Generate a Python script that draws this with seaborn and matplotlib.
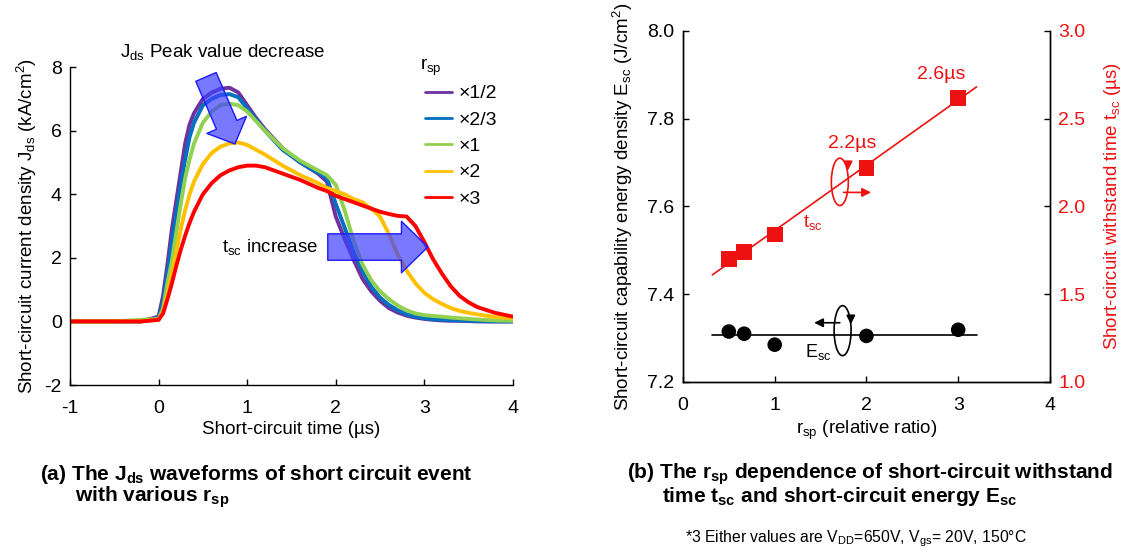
import numpy as np
import pandas as pd
import seaborn as sns
import matplotlib.pyplot as plt
from matplotlib.patches import FancyArrowPatch, Ellipse
from matplotlib.lines import Line2D

# ---- (a) Jds waveforms ----
t_us = [-1, -0.5, -0.2, 0, 0.05, 0.1, 0.15, 0.2, 0.25, 0.3, 0.35, 0.4, 0.5, 0.6, 0.7, 0.8, 0.9,
        1.0, 1.1, 1.2, 1.4, 1.6, 1.8, 1.9, 2.0, 2.1, 2.2, 2.3, 2.4, 2.5, 2.6, 2.7, 2.8, 2.9,
        3.0, 3.1, 3.2, 3.3, 3.4, 3.5, 3.6, 3.8, 4.0]
j_half = [0, 0, 0, 0.15, 0.8, 1.8, 2.9, 3.8, 4.7, 5.6, 6.2, 6.55, 7.0, 7.2, 7.32, 7.35, 7.2,
          6.8, 6.4, 6.05, 5.45, 5.0, 4.65, 4.4, 3.3, 2.6, 1.95, 1.35, 0.95, 0.65, 0.42, 0.28, 0.18, 0.12,
          0.08, 0.05, 0.03, 0.02, 0.02, 0.01, 0, 0, 0]
j_2_3 = [0, 0, 0, 0.1, 0.6, 1.5, 2.5, 3.4, 4.3, 5.1, 5.8, 6.25, 6.8, 7.0, 7.12, 7.15, 7.05,
         6.7, 6.35, 6.0, 5.4, 5.0, 4.68, 4.5, 3.7, 2.95, 2.2, 1.6, 1.1, 0.75, 0.52, 0.35, 0.22, 0.15,
         0.1, 0.07, 0.05, 0.04, 0.03, 0.02, 0.01, 0, 0]
j_1 = [0, 0, 0.05, 0.08, 0.4, 1.2, 1.9, 2.8, 3.7, 4.5, 5.1, 5.6, 6.25, 6.6, 6.8, 6.85, 6.8,
       6.6, 6.3, 6.0, 5.45, 5.05, 4.75, 4.6, 4.3, 3.5, 2.55, 1.8, 1.3, 0.95, 0.7, 0.5, 0.35, 0.25,
       0.2, 0.17, 0.15, 0.12, 0.1, 0.08, 0.06, 0.03, 0.02]
j_2 = [0, 0, 0, 0.05, 0.3, 0.85, 1.5, 2.2, 2.9, 3.5, 4.0, 4.4, 4.95, 5.3, 5.5, 5.6, 5.63,
       5.55, 5.4, 5.25, 4.9, 4.6, 4.35, 4.2, 4.1, 4.0, 3.85, 3.75, 3.55, 3.3, 2.75, 2.1, 1.6, 1.2,
       0.9, 0.7, 0.55, 0.42, 0.33, 0.27, 0.22, 0.14, 0.1]
j_3 = [0, 0, 0, 0.05, 0.25, 0.7, 1.2, 1.75, 2.25, 2.7, 3.1, 3.45, 4.0, 4.35, 4.6, 4.75, 4.85,
       4.9, 4.9, 4.85, 4.65, 4.45, 4.2, 4.1, 3.95, 3.85, 3.75, 3.65, 3.55, 3.45, 3.38, 3.32, 3.3, 3.0,
       2.5, 1.95, 1.5, 1.1, 0.8, 0.6, 0.45, 0.27, 0.15]
rsp_labels = ['×1/2', '×2/3', '×1', '×2', '×3']
rsp_colors = ['#7030a0', '#0070c0', '#92d050', '#ffc000', '#ff0000']

# ---- (b) rsp dependence ----
rsp = [0.5, 0.667, 1, 2, 3]
tsc = [1.70, 1.74, 1.84, 2.22, 2.62]
esc = [7.315, 7.310, 7.285, 7.305, 7.319]
fit_x = [0.32, 3.2]

red = '#ee1111'

df = pd.DataFrame({'t': t_us * 5,
                   'J': j_half + j_2_3 + j_1 + j_2 + j_3,
                   'rsp': sum([[l] * len(t_us) for l in rsp_labels], [])})

sns.set_theme(style='white')
plt.rcParams['font.family'] = ['Liberation Sans', 'DejaVu Sans']
plt.rcParams['mathtext.default'] = 'regular'
plt.rcParams['axes.unicode_minus'] = False
plt.rcParams['xtick.direction'] = 'in'
plt.rcParams['ytick.direction'] = 'in'
plt.rcParams['text.color'] = 'black'
plt.rcParams['axes.labelcolor'] = 'black'
plt.rcParams['xtick.color'] = 'black'
plt.rcParams['ytick.color'] = 'black'

fig = plt.figure(figsize=(11.24, 5.52), dpi=100)
ax = fig.add_axes([0.0623, 0.3025, 0.394, 0.576])

sns.lineplot(data=df, x='t', y='J', hue='rsp', palette=dict(zip(rsp_labels, rsp_colors)),
             estimator=None, lw=2.8, ax=ax, legend=False, zorder=2)
ax.set_xlim(-1, 4)
ax.set_ylim(-2, 8)
ax.set_xticks([-1, 0, 1, 2, 3, 4])
ax.set_yticks([-2, 0, 2, 4, 6, 8])
for s in ['top', 'right']:
    ax.spines[s].set_visible(False)
for s in ['left', 'bottom']:
    ax.spines[s].set_color('black')
    ax.spines[s].set_linewidth(1.0)
ax.tick_params(labelsize=14, length=4, width=1, left=True, bottom=True, pad=6)
ax.tick_params(axis='x', pad=11)
ax.set_xlabel('Short-circuit time (µs)', fontsize=13.5, labelpad=3)
ax.set_ylabel('Short-circuit current density J$_{ds}$ (kA/cm$^2$)', fontsize=13.5, labelpad=4)

handles = [Line2D([], [], color=c, lw=2) for c in rsp_colors]
ax.text(0.79, 1.0, 'r$_{sp}$', transform=ax.transAxes, fontsize=13.5, ha='left', va='center')
leg = ax.legend(handles, rsp_labels, frameon=False, fontsize=14,
                loc='upper left', bbox_to_anchor=(0.78, 0.975),
                borderpad=0, handlelength=1.4, handletextpad=0.3, labelspacing=0.45)

# fat translucent arrows
arrow_kw = dict(facecolor=(0.25, 0.25, 1.0, 0.7), edgecolor='#1a1aff', lw=1, zorder=3,
                shrinkA=0, shrinkB=0, mutation_scale=1)
ax.add_patch(FancyArrowPatch((0.535, 7.69), (0.862, 5.58),
                             arrowstyle='simple,head_length=15,head_width=31,tail_width=16', **arrow_kw))
ax.add_patch(FancyArrowPatch((1.91, 2.34), (3.04, 2.34),
                             arrowstyle='simple,head_length=19,head_width=37,tail_width=19', **arrow_kw))
ax.text(-0.44, 8.47, 'J$_{ds}$ Peak value decrease', fontsize=13.5, va='center', ha='left')
ax.text(1.80, 2.34, 't$_{sc}$ increase', fontsize=13.5, va='center', ha='right')

# ---- right panel ----
bx = fig.add_axes([0.6076, 0.308, 0.3265, 0.636])
tx = bx.twinx()
fit = np.polyfit(rsp, tsc, 1)
tx.plot(fit_x, np.polyval(fit, fit_x), color=red, lw=1.2)
bx.plot(fit_x, [np.mean(esc)] * 2, color='black', lw=1.2)
sns.scatterplot(x=rsp, y=esc, ax=bx, color='black', s=110, marker='o', edgecolor='none', zorder=3)
sns.scatterplot(x=rsp, y=tsc, ax=tx, color=red, s=130, marker='s', edgecolor='none', zorder=3)

bx.set_xlim(0, 4)
bx.set_ylim(7.2, 8.0)
tx.set_ylim(1.0, 3.0)
bx.set_xticks([0, 1, 2, 3, 4])
bx.set_yticks([7.2, 7.4, 7.6, 7.8, 8.0])
bx.set_yticklabels(['7.2', '7.4', '7.6', '7.8', '8.0'])
tx.set_yticks([1.0, 1.5, 2.0, 2.5, 3.0])
tx.set_yticklabels(['1.0', '1.5', '2.0', '2.5', '3.0'])
for a in (bx, tx):
    a.spines['top'].set_visible(False)
    for s in ['left', 'bottom', 'right']:
        a.spines[s].set_color('black')
        a.spines[s].set_linewidth(1.0)
bx.tick_params(labelsize=14, length=4, width=1, left=True, bottom=True, pad=6)
bx.tick_params(axis='x', pad=11)
tx.tick_params(labelsize=14, length=4, width=1, right=True, labelcolor=red, pad=6)
bx.set_xlabel('r$_{sp}$ (relative ratio)', fontsize=13.5, labelpad=3)
bx.set_ylabel('Short-circuit capability energy density E$_{sc}$ (J/cm$^2$)', fontsize=13.5, labelpad=9)
tx.set_ylabel('Short-circuit withstand time t$_{sc}$ (µs)', fontsize=13.5, color=red, labelpad=12)

tx.text(2.82, 2.75, '2.6µs', color=red, fontsize=14, ha='center', va='center')
tx.text(1.84, 2.36, '2.2µs', color=red, fontsize=14, ha='center', va='center')
tx.text(1.41, 1.91, 't$_{sc}$', color=red, fontsize=13, ha='center', va='center')
bx.text(1.47, 7.268, 'E$_{sc}$', color='black', fontsize=13, ha='center', va='center')

tx.add_patch(Ellipse((1.71, 2.14), 0.185, 0.27, fill=False, edgecolor=red, lw=1.2))
tx.annotate('', xy=(1.80, 2.19), xytext=(1.80, 2.27),
            arrowprops=dict(arrowstyle='-|>', color=red, lw=1.2, mutation_scale=13))
tx.annotate('', xy=(2.08, 2.08), xytext=(1.72, 2.08),
            arrowprops=dict(arrowstyle='-|>', color=red, lw=1.2, mutation_scale=13))
bx.add_patch(Ellipse((1.74, 7.317), 0.185, 0.114, fill=False, edgecolor='black', lw=1.2))
bx.annotate('', xy=(1.83, 7.325), xytext=(1.83, 7.355),
            arrowprops=dict(arrowstyle='-|>', color='black', lw=1.2, mutation_scale=13))
bx.annotate('', xy=(1.40, 7.335), xytext=(1.74, 7.335),
            arrowprops=dict(arrowstyle='-|>', color='black', lw=1.2, mutation_scale=13))

# ---- captions ----
cap = dict(family=['Liberation Sans', 'DejaVu Sans'],
           fontweight='bold', fontsize=15, va='center', ha='left')
fig.text(0.0356, 0.1413, '(a) The J$_{ds}$ waveforms of short circuit event', **cap)
fig.text(0.0665, 0.1, 'with various r$_{sp}$', **cap)
fig.text(0.558, 0.1413, '(b) The r$_{sp}$ dependence of short-circuit withstand', **cap)
fig.text(0.589, 0.1, 'time t$_{sc}$ and short-circuit energy E$_{sc}$', **cap)
fig.text(0.609, 0.0236, '*3 Either values are V$_{DD}$=650V, V$_{gs}$= 20V, 150°C',
         fontsize=11.3, va='center', ha='left')

fig.savefig('out.png', dpi=100)
